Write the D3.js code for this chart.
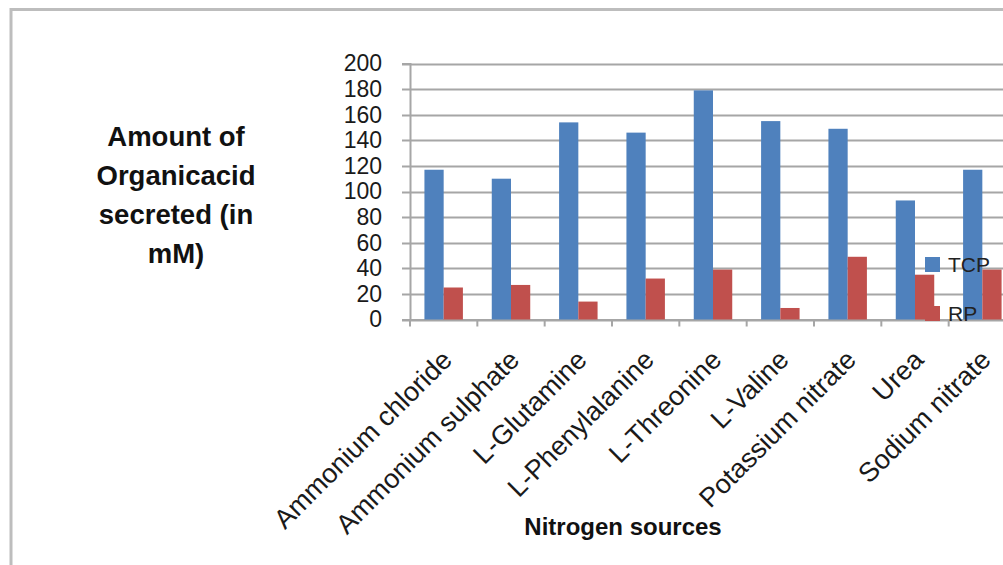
<!DOCTYPE html>
<html>
<head>
<meta charset="utf-8">
<script src="https://cdn.jsdelivr.net/npm/d3@7"></script>
<style>
  html, body { margin: 0; padding: 0; background: #fff; }
  svg { display: block; font-family: "Liberation Sans", Arial, sans-serif; }
</style>
</head>
<body>
<svg id="chart" width="1003" height="565"></svg>
<script>
// data
const categories = [
  "Ammonium chloride", "Ammonium sulphate", "L-Glutamine", "L-Phenylalanine",
  "L-Threonine", "L-Valine", "Potassium nitrate", "Urea", "Sodium nitrate"
];
const seriesNames = ["TCP", "RP"];
const tcpValues = [117, 110, 154, 146, 179, 155, 149, 93, 117];
const rpValues = [25, 27, 14, 32, 39, 9, 49, 35, 39];
const yTicks = [0, 20, 40, 60, 80, 100, 120, 140, 160, 180, 200];
const yTitleLines = ["Amount of", "Organicacid", "secreted (in", "mM)"];
const xTitle = "Nitrogen sources";

const colors = { TCP: "#4f81bd", RP: "#c0504d" };

const rows = categories.map((c, i) => ({ name: c, TCP: tcpValues[i], RP: rpValues[i] }));

const svg = d3.select("#chart");

// chart frame (runs off the right and bottom of the picture)
svg.append("rect")
  .attr("x", 11).attr("y", 9.5)
  .attr("width", 1100).attr("height", 600)
  .attr("fill", "none")
  .attr("stroke", "#bdbdbd")
  .attr("stroke-width", 3);

// plot area runs past the right edge, like the original crop
const plot = { left: 410, right: 1016, top: 63.5, bottom: 319.5 };

const x0 = d3.scaleBand()
  .domain(categories)
  .range([plot.left, plot.right])
  .paddingInner(0).paddingOuter(0);

const x1 = d3.scaleBand()
  .domain(seriesNames)
  .range([0, x0.bandwidth()])
  .paddingInner(0)
  .paddingOuter(0.75);

const y = d3.scaleLinear()
  .domain([0, 200])
  .range([plot.bottom, plot.top]);

// gridlines
svg.append("g")
  .attr("class", "grid")
  .selectAll("line")
  .data(yTicks)
  .join("line")
  .attr("x1", plot.left - 8)
  .attr("x2", plot.right)
  .attr("y1", d => Math.round(y(d)) + 0.5)
  .attr("y2", d => Math.round(y(d)) + 0.5)
  .attr("stroke", "#a6a6a6")
  .attr("stroke-width", 2);

// y axis
const yAxis = svg.append("g")
  .attr("transform", `translate(${plot.left},0)`)
  .call(d3.axisLeft(y).tickValues(yTicks).tickSize(8).tickPadding(20));
yAxis.select(".domain").attr("stroke", "#a6a6a6").attr("stroke-width", 2);
yAxis.selectAll(".tick line").attr("stroke", "none");
yAxis.selectAll("text")
  .attr("font-size", 23)
  .attr("font-family", "Liberation Sans, Arial, sans-serif")
  .attr("fill", "#1a1a1a");

// x axis
const xAxis = svg.append("g")
  .attr("transform", `translate(0,${plot.bottom})`)
  .call(d3.axisBottom(x0).tickSize(0).tickFormat(""));
xAxis.select(".domain").attr("stroke", "#a6a6a6").attr("stroke-width", 2);
xAxis.selectAll(".tick").remove();

// category boundary ticks
svg.append("g")
  .selectAll("line")
  .data(categories)
  .join("line")
  .attr("x1", d => x0(d)).attr("x2", d => x0(d))
  .attr("y1", plot.bottom).attr("y2", plot.bottom + 7)
  .attr("stroke", "#a6a6a6")
  .attr("stroke-width", 2);

// bars
const groups = svg.append("g")
  .selectAll("g")
  .data(rows)
  .join("g")
  .attr("transform", d => `translate(${x0(d.name)},0)`);

groups.selectAll("rect")
  .data(d => seriesNames.map(s => ({ key: s, value: d[s] })))
  .join("rect")
  .attr("x", d => x1(d.key))
  .attr("y", d => y(d.value))
  .attr("width", x1.bandwidth())
  .attr("height", d => y(0) - y(d.value))
  .attr("fill", d => colors[d.key]);

// rotated category labels
svg.append("g")
  .selectAll("text")
  .data(categories)
  .join("text")
  .attr("transform", d => `translate(${x0(d) + x0.bandwidth() / 2 + 10},${plot.bottom + 42}) rotate(-45)`)
  .attr("text-anchor", "end")
  .attr("font-size", 27)
  .attr("fill", "#1a1a1a")
  .text(d => d);

// y axis title
svg.append("text")
  .attr("x", 176)
  .attr("y", 146)
  .attr("text-anchor", "middle")
  .attr("font-size", 27.5)
  .attr("font-weight", "bold")
  .attr("fill", "#111")
  .selectAll("tspan")
  .data(yTitleLines)
  .join("tspan")
  .attr("x", 176)
  .attr("dy", (d, i) => i === 0 ? 0 : 39)
  .text(d => d);

// x axis title
svg.append("text")
  .attr("x", 623)
  .attr("y", 535)
  .attr("text-anchor", "middle")
  .attr("font-size", 24)
  .attr("font-weight", "bold")
  .attr("fill", "#111")
  .text(xTitle);

// legend
const legend = svg.append("g")
  .selectAll("g")
  .data(seriesNames)
  .join("g")
  .attr("transform", (d, i) => `translate(925,${257 + i * 49})`);
legend.append("rect")
  .attr("width", 15).attr("height", 15)
  .attr("fill", d => colors[d]);
legend.append("text")
  .attr("x", 23).attr("y", 15)
  .attr("font-size", 21)
  .attr("fill", "#222")
  .text(d => d);
</script>
</body>
</html>
